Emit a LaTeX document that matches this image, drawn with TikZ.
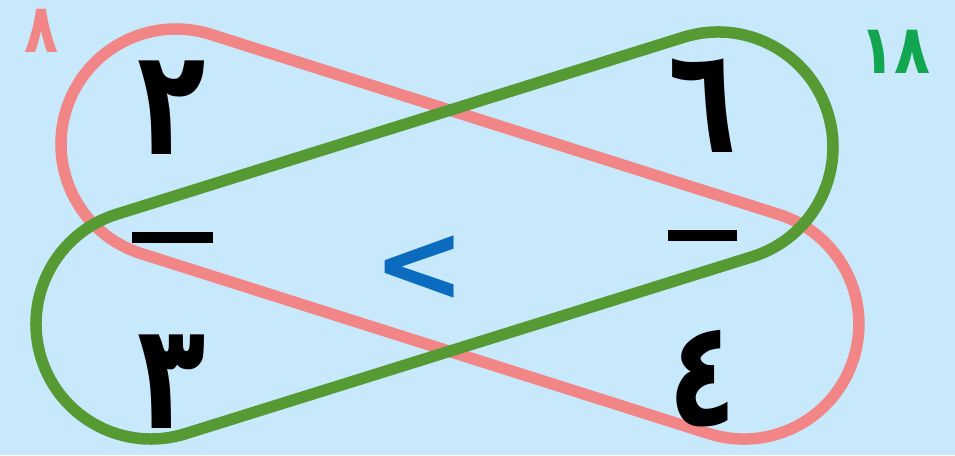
\documentclass[tikz,border=0pt]{standalone}
\usepackage{fontspec}
\usepackage{graphicx}
\newfontfamily\arabicfont[Script=Arabic]{DejaVu Sans}
\newfontfamily\symfont{DejaVu Sans}
\definecolor{bgblue}{HTML}{C8E8FB}
\definecolor{capred}{HTML}{F28585}
\definecolor{capgreen}{HTML}{559A33}
\definecolor{txtgreen}{HTML}{12A650}
\definecolor{txtblue}{HTML}{0B6BBE}
\newcommand{\tall}[1]{\scalebox{0.95}[1.25]{#1}}
\tikzset{
  capsule/.style={line width=11.5pt},
  digit/.style={inner sep=0pt, font=\arabicfont\bfseries\fontsize{118}{118}\selectfont},
  total/.style={inner sep=0pt, font=\arabicfont\bfseries\fontsize{62}{62}\selectfont},
  bar/.style={line width=11pt, black}
}
\begin{document}
\begin{tikzpicture}[x=1pt,y=1pt]
\fill[bgblue] (0,0) rectangle (955,455);
\useasboundingbox (0,0) rectangle (955,455);
% red capsule
\begin{scope}[shift={(176,311)}, rotate=-17.59]
\draw[capsule, capred] (0,115) -- (595.8,115) arc (90:-90:115) -- (0,-115) arc (-90:-270:115) -- cycle;
\end{scope}
% green capsule
\begin{scope}[shift={(151,131)}, rotate=17.34]
\draw[capsule, capgreen] (0,115) -- (594,115) arc (90:-90:115) -- (0,-115) arc (-90:-270:115) -- cycle;
\end{scope}
% digits
\node[digit] (two) at (172,347) {\tall{٢}};
\node[digit] (six) at (703,349) {\tall{٦}};
\node[digit] (three) at (172,73) {\tall{٣}};
\node[digit] (four) at (703,76) {\tall{٤}};
% fraction bars
\coordinate (lbA) at (132,217.5);
\coordinate (lbB) at (213,217.5);
\coordinate (rbA) at (668,219);
\coordinate (rbB) at (737,219);
\draw[bar] (lbA) -- (lbB);
\draw[bar] (rbA) -- (rbB);
% products
\node[total, text=capred] (eight) at (42,424) {\scalebox{0.9}[1.1]{٨}};
\node[total, text=txtgreen] (eighteen) at (895,403) {\scalebox{0.95}[1.1]{١٨}};
% comparison
\node[inner sep=0pt, text=txtblue, font=\symfont\bfseries\fontsize{110}{110}\selectfont] (lt) at (420,186) {<};
\end{tikzpicture}
\end{document}
